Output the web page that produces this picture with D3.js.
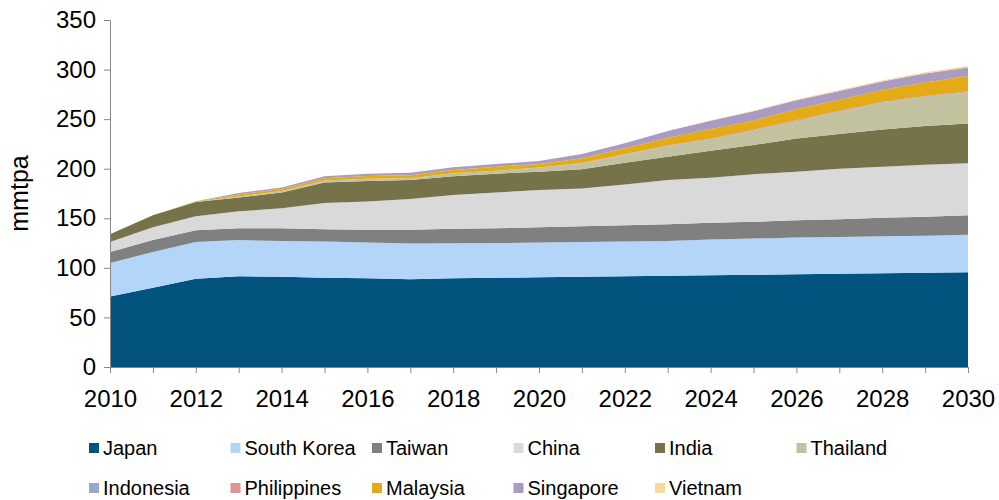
<!DOCTYPE html>
<html>
<head>
<meta charset="utf-8">
<script src="https://cdn.jsdelivr.net/npm/d3@7"></script>
<style>
  body { margin: 0; background: #fff; }
  text { font-family: "Liberation Sans", Arial, sans-serif; fill: #000; }
  .axis path, .axis line { stroke: #868686; }
</style>
</head>
<body>
<script>
// LNG demand by country, stacked area (mmtpa)

var years = d3.range(2010, 2031);

var japan       = [71, 80, 89, 91.5, 91, 90, 89.5, 88.5, 89.5, 90, 90.5, 91, 91.5, 92, 92.5, 93, 93.5, 94, 94.5, 95, 95.5];
var southKorea  = [34, 36, 37, 36.5, 36, 36.5, 36, 36, 35.2, 35, 35, 35, 35, 35, 36, 36.5, 37, 37, 37.5, 37.5, 38];
var taiwan      = [11, 12, 12, 12, 13, 12.5, 13, 14, 14.8, 15, 15.5, 16, 16.5, 17, 17, 17, 17.5, 18, 18.5, 19, 19.5];
var china       = [10, 13, 14, 17, 20, 26.5, 28.5, 31, 34, 36, 37.5, 38, 41, 44.6, 45.5, 48, 49, 51, 51.5, 52.5, 52.5];
var india       = [8, 12, 14.5, 14, 16, 20.5, 20.6, 19.1, 19, 19, 18.5, 19.5, 22, 23.4, 27, 29.5, 33.5, 35, 37.5, 39, 40];
var thailand    = [0, 0, 0.3, 1, 1.5, 2, 2.4, 1.9, 2.9, 3, 4, 5.5, 7.8, 10.5, 11, 14, 17, 22, 26.5, 29, 31];
var indonesia   = [0, 0, 0, 0, 0, 0, 0, 0, 0, 0, 0, 0.2, 0.3, 0.3, 0.4, 0.4, 0.5, 0.5, 0.5, 0.5, 0.5];
var philippines = [0, 0, 0, 0, 0, 0, 0, 0, 0, 0, 0.3, 0.5, 0.6, 0.7, 0.7, 0.8, 0.8, 0.8, 0.9, 0.9, 1.0];
var malaysia    = [0, 0, 0.2, 2, 2, 2.5, 2.7, 3, 3.3, 4, 3.5, 4.8, 5.9, 7.5, 9.9, 9.3, 11.2, 11.2, 12.1, 13.6, 15.5];
var singapore   = [0, 0, 0.2, 1.5, 1.5, 2, 2.3, 2.5, 2.7, 2.8, 3, 4.3, 5, 7, 8.5, 9.5, 9, 9, 8.5, 9, 8.5];
var vietnam     = [0, 0, 0, 0, 0, 0, 0, 0, 0, 0, 0, 0, 0, 0, 0.3, 0.5, 0.7, 0.9, 1.1, 1.3, 1.5];

var seriesNames = ['Japan', 'South Korea', 'Taiwan', 'China', 'India', 'Thailand',
                   'Indonesia', 'Philippines', 'Malaysia', 'Singapore', 'Vietnam'];
var seriesValues = [japan, southKorea, taiwan, china, india, thailand,
                    indonesia, philippines, malaysia, singapore, vietnam];
var seriesColors = ['#02547E', '#B3D5F8', '#808080', '#D9D9D9', '#76734A', '#C2C29F',
                    '#93A9CF', '#D99694', '#E3AC17', '#A99BC2', '#F6DA9A'];

var yTicks = [0, 50, 100, 150, 200, 250, 300, 350];

var chart = {
    width: 999,
    height: 500,
    left: 110,
    right: 968,
    top: 20,
    bottom: 367
};

var rows = years.map(function(y, i) {
    var r = {year: y};
    seriesNames.forEach(function(n, k) { r[n] = seriesValues[k][i]; });
    return r;
});

var svg = d3.select('body').append('svg')
    .attr('width', chart.width)
    .attr('height', chart.height);

var xs = d3.scaleLinear().domain([2010, 2030]).range([chart.left, chart.right]);
var ys = d3.scaleLinear().domain([0, 350]).range([chart.bottom, chart.top]);

var stacked = d3.stack().keys(seriesNames)(rows);

var area = d3.area()
    .x(function(d) { return xs(d.data.year); })
    .y0(function(d) { return ys(d[0]); })
    .y1(function(d) { return ys(d[1]); });

svg.append('g').selectAll('path')
    .data(stacked)
    .enter()
    .append('path')
    .attr('d', area)
    .style('fill', function(d, i) { return seriesColors[i]; })
    .style('stroke', 'none');

// axes
var yAxis = svg.append('g')
    .classed('axis', true)
    .attr('transform', 'translate(' + chart.left + ',0)')
    .call(d3.axisLeft(ys).tickValues(yTicks).tickSize(6).tickSizeOuter(0).tickPadding(8));
yAxis.selectAll('text').style('font-size', '24px');

var xAxis = svg.append('g')
    .classed('axis', true)
    .attr('transform', 'translate(0,' + chart.bottom + ')')
    .call(d3.axisBottom(xs).tickValues(years).tickSize(6).tickSizeOuter(0).tickPadding(17)
        .tickFormat(function(d) { return d % 2 === 0 ? String(d) : ''; }));
xAxis.selectAll('text').style('font-size', '24px');

svg.append('text')
    .attr('transform', 'translate(28,' + ((chart.top + chart.bottom) / 2) + ') rotate(-90)')
    .attr('text-anchor', 'middle')
    .style('font-size', '25px')
    .text('mmtpa');

// legend, two rows
var legend = svg.append('g');
var item = legend.selectAll('g')
    .data(seriesNames)
    .enter()
    .append('g')
    .attr('transform', function(d, i) {
        return 'translate(' + (89 + 141.5 * (i % 6)) + ',' + (448 + 40 * Math.floor(i / 6)) + ')';
    });
item.append('rect')
    .attr('x', 0)
    .attr('y', -5)
    .attr('width', 10)
    .attr('height', 10)
    .style('fill', function(d, i) { return seriesColors[i]; });
item.append('text')
    .attr('x', 14)
    .attr('dy', '0.36em')
    .style('font-size', '20px')
    .text(function(d) { return d; });
</script>
</body>
</html>
